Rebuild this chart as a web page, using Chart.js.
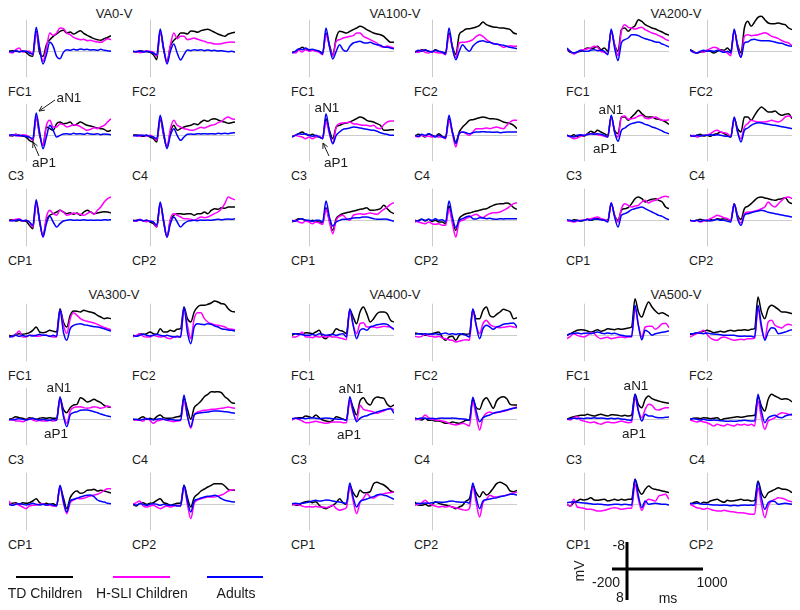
<!DOCTYPE html>
<html>
<head>
<meta charset="utf-8">
<script src="https://cdn.jsdelivr.net/npm/chart.js@4.4.1/dist/chart.umd.min.js"></script>
<style>
  body { margin: 0; background: #fff; }
  #stage { position: relative; width: 800px; height: 610px; overflow: hidden;
           font-family: Arial, "Liberation Sans", sans-serif; color: #1a1a1a; }
  #stage canvas { position: absolute; }
  .c { position: absolute; white-space: nowrap; transform: translate(-50%, -50%); line-height: 1; }
  .l { position: absolute; white-space: nowrap; transform: translate(0, -50%); line-height: 1; }
  svg { position: absolute; left: 0; top: 0; }
</style>
</head>
<body>
<div id="stage"></div>
<script>
// time axis (ms) shared by every trace
const times = [-200,-160,-120,-80,-40,0,40,80,120,160,200,240,280,320,360,400,440,480,520,560,600,640,680,720,760,800,840,880,920,960,1000];

const panels = ['VA0-V','VA100-V','VA200-V','VA300-V','VA400-V','VA500-V'];
const electrodes = ['FC1','FC2','C3','C4','CP1','CP2'];
const groups = ['TD Children','H-SLI Children','Adults'];

// amplitudes in microvolts (negative plotted up)
// VA0-V
const va0_FC1_td = [0,-0.2,0,0.1,-0.1,0.3,1.2,1.5,-6,0.5,1.5,-2,-3.5,-4.5,-5.2,-6,-6.3,-5.5,-5.8,-5.2,-5.7,-6.2,-5.4,-4.8,-4.3,-3.8,-3.5,-3.3,-3.8,-4.2,-4.7];
const va0_FC1_hsli = [0.3,0.5,-0.5,-1,0.2,0,0,1,-5.5,-1,3,-1,-5.5,-4.8,-5.5,-7,-6.8,-5.5,-5,-4.2,-3.8,-3.5,-3.6,-3.2,-3.3,-3,-2.8,-2.7,-3.2,-3.8,-3.5];
const va0_FC1_adult = [0,0.2,-0.2,0.1,0,0,0.5,0.8,-7.2,-1,3.8,1,-2.7,-1.5,1.5,2.2,0.3,-0.5,-0.3,-0.6,-0.4,-0.7,-0.5,-0.6,-0.4,-0.5,-0.3,-0.6,-0.3,-0.2,0];
const va0_FC2_td = [0,0.2,-0.2,0,0.1,0.3,1,2.5,-6,-0.5,3,-1.5,-3.3,-4.2,-5.5,-5.5,-5.2,-6.1,-6,-5.7,-6.2,-6.5,-6.6,-6.2,-5.7,-5.2,-4.8,-4.5,-5.2,-5.5,-5.7];
const va0_FC2_hsli = [0.3,0,0.4,0.2,-0.2,0,0.3,1.5,-6,-1,3.3,-2,-5.5,-3.8,-4.5,-4.5,-3.5,-3.7,-4,-3.6,-3.3,-3,-2.6,-2.5,-2.2,-2.2,-2.3,-2.6,-2.7,-2.8,-2.7];
const va0_FC2_adult = [0,0.1,-0.1,0.2,0,0.2,0.5,1,-6.7,-1,3.8,0,-2.2,0.5,2.6,1,-0.4,-0.2,-0.5,-0.3,-0.5,-0.2,-0.4,-0.2,-0.3,-0.1,-0.2,0,0.1,0,0.2];
const va0_C3_td = [0,0.2,-0.3,0,0.2,0.5,1.5,2,-5.5,0,3,-2.5,-2,-1.5,-3.5,-4,-3.5,-3.6,-4,-3,-3.4,-4,-3.5,-3,-2.8,-2.5,-2.2,-2,-1.8,-1.2,-1.5];
const va0_C3_hsli = [0.2,0,-0.3,0.3,-0.2,0,0.5,1.5,-5.5,-0.5,3,-3,-4.5,-2.5,-2.5,-3.5,-3.2,-2.5,-2.8,-3.2,-3,-2.6,-2,-1.5,-1.8,-2.3,-2,-2.5,-3,-4,-5];
const va0_C3_adult = [0,-0.2,0.1,0,0.1,0.3,0.6,1,-6.7,-1,4,0.5,-3,-1.5,0.5,0,-0.4,-0.5,-0.3,-0.6,-0.4,-0.5,-0.3,-0.6,-0.4,-0.3,-0.5,-0.2,-0.4,-0.3,-0.2];
const va0_C4_td = [0,-0.2,0.2,0.3,0,0.5,1,2,-5,0,3.5,-1,-3,-1.5,-2,-2.5,-2.8,-3,-3.5,-3.2,-4,-4.5,-4.2,-4.8,-5,-4.6,-4.2,-4,-3.6,-3.8,-4];
const va0_C4_hsli = [0.2,0,0.3,-0.1,0.2,0,0.5,1.5,-5.5,-0.5,3.5,-2,-4.5,-3,-2.5,-2,-1.8,-1.5,-1.6,-2,-2.4,-2.2,-2.6,-3,-3.2,-3.8,-4.2,-5,-5.5,-5,-4.8];
const va0_C4_adult = [0,0.2,-0.1,0.1,0,0.3,0.5,1,-6,-1,4,0,-2,0,1.5,0.5,-0.3,-0.4,-0.3,-0.5,-0.4,-0.5,-0.4,-0.5,-0.4,-0.6,-0.5,-0.6,-0.5,-0.7,-0.8];
const va0_CP1_td = [0,-0.2,0.2,0,0.2,0.3,1.5,2.5,-5.5,0.5,4.5,0,-1.5,-2,-2.5,-3,-2.5,-2,-2.3,-1.8,-2.2,-1.5,-2.5,-3,-2.5,-2,-2.2,-2.4,-2.6,-2.5,-2.2];
const va0_CP1_hsli = [0.2,0,-0.3,-0.5,0.2,0,0.5,2,-5,0,5,-1,-3,-2,-1.5,-3,-2.5,-1.5,-1.8,-2.2,-2,-1.8,-1.5,-2,-2.5,-1.8,-3,-4,-5.5,-6.5,-7];
const va0_CP1_adult = [0,0.2,0,-0.2,0.1,0,0.5,1.5,-6.2,0,5,1,-1.2,0.5,2,1,0.2,0,-0.2,0,-0.1,0,-0.2,0,-0.1,0,-0.1,0,-0.2,-0.1,-0.2];
const va0_CP2_td = [0.2,0,-0.2,0.2,0,0.5,1,2,-5,0.5,5,0,-1.5,-2,-2,-1.8,-2,-2,-1.5,-2,-2,-2.5,-2,-3,-3.5,-3.3,-3.8,-3.6,-4,-4,-4];
const va0_CP2_hsli = [0,0.3,-0.3,0.2,0.4,0.2,0.5,2,-5,0,5,-0.5,-2,-1.5,-1,-0.5,-0.5,-0.3,0,-0.5,-1,-0.8,-1,-1.5,-2,-2.5,-3.5,-5,-7,-6.5,-6.2];
const va0_CP2_adult = [0,0.1,-0.2,0.1,0,0.3,0.5,1.5,-5.5,0,5,1,-1,0.5,2,1,0.3,0.1,0,0.1,-0.1,0,-0.1,0,-0.2,-0.3,-0.2,-0.3,-0.4,-0.3,-0.5];

// VA100-V
const va100_FC1_td = [0.3,0,-0.5,-1.2,-0.5,-0.3,-0.5,-0.2,0,0.5,-5.5,-2,1,-4,-6,-5.8,-5.5,-6,-6.5,-7,-7.5,-7.2,-6.5,-6,-5.5,-5.2,-5,-4.5,-3.5,-2.7,-2.7];
const va100_FC1_hsli = [0.3,0.5,-0.3,0.2,-0.5,0,-0.3,0,0.3,1,-5,-1.5,1.5,-3,-3.5,-4,-4.2,-4.5,-4.7,-5.5,-5.5,-4.5,-4,-3.5,-3,-2.5,-1.5,-1.2,-1.6,-1.3,-1];
const va100_FC1_adult = [0.5,0,-0.8,-0.5,-1,-0.5,-0.6,-0.3,0,0.8,-7,-1.5,2.3,0,-2,-0.5,0,-1.5,-2.5,-2.8,-3,-2.6,-2.5,-2.7,-2.3,-2,-1.8,-1.3,-1.2,-1,-0.7];
const va100_FC2_td = [0.2,0,-0.5,-0.3,0,0.2,-0.5,0,0.3,0.5,-5.5,-1.5,1,-5,-6,-6.7,-6.8,-7,-7.3,-7.8,-8.8,-8,-7.6,-7.3,-7.2,-7,-7,-6.8,-6.5,-5.5,-5.2];
const va100_FC2_hsli = [0,0.3,-0.3,0.3,0.5,0,0.3,0.5,0.5,1,-5,-1,2,-2.5,-2.7,-2.8,-3,-3.5,-4.5,-5,-4.5,-3.5,-2.8,-2.4,-2.2,-1.8,-1.2,-1.5,-1.7,-1.5,-1.5];
const va100_FC2_adult = [0.2,-0.3,0,-0.5,0,0.2,-0.3,0,0.2,0.8,-7,-1,2.5,0,-2,-0.8,0,-1.5,-2.5,-3,-3.2,-2.8,-2.7,-2.3,-2.2,-2,-1.8,-1.5,-1.2,-1,-0.8];
const va100_C3_td = [0.3,0,-0.5,-1,-0.3,0,-0.3,0.3,0.5,0.8,-5,-1.5,1,-2.5,-3,-3.5,-3.7,-4,-4.5,-5,-5.5,-5.2,-4.5,-4.2,-4,-3.5,-3,-1.5,-1.5,-1.7,-1.7];
const va100_C3_hsli = [0.5,0,0.3,0.5,1,0.5,1,0.5,0.3,1,-4,-0.5,2.5,-2.5,-3.5,-3.7,-3.8,-4,-3.5,-3.4,-3.2,-3,-3,-2.8,-3,-2.2,-2,-3.2,-4,-4.3,-4.3];
const va100_C3_adult = [0.5,0,-0.5,-0.3,-0.5,0,0.3,0,0.5,1,-6.5,-1,2.5,0,-1,-1.8,-2,-2.2,-2.5,-2.4,-2.2,-2,-1.8,-1.6,-1.5,-1.2,-0.8,-0.5,-0.3,0,0];
const va100_C4_td = [0.3,-0.3,0,0.5,-0.5,0,0.3,-0.5,0.3,0.5,-5,-1,2,-1,-2.5,-3.5,-4.5,-4.7,-5,-5.3,-5.5,-5.3,-5,-5,-4.8,-4.5,-4,-3.8,-3.5,-3,-2];
const va100_C4_hsli = [0.3,0.5,0,0.3,0.2,0.5,0.2,0.5,0.5,1,-4.5,-0.5,3.5,-0.5,-1,-0.5,0,-1,-2,-2,-2,-2.2,-2,-2.3,-2.5,-2.2,-2,-3,-4,-4.5,-4.5];
const va100_C4_adult = [0,0.3,-0.3,0,-0.5,0,0.5,0,0.5,0.8,-6,-1,2.5,-0.5,-1,-0.8,-0.5,-0.8,-1,-1,-1.1,-1,-1,-0.9,-1,-0.8,-0.9,-1,-1,-1,-1];
const va100_CP1_td = [0.5,0,-0.5,-0.3,0,0.3,0,0.3,0.5,0.8,-3.8,0,3,-0.5,-1.5,-2,-2.3,-2.5,-2.8,-3,-3.3,-3.5,-3.8,-3,-3,-3.2,-3.5,-4.5,-3.5,-2.5,-2];
const va100_CP1_hsli = [0.3,0,0.5,0.8,0.2,0.5,1,0.5,0.8,1.2,-3.3,0.5,4,0,-1.2,-1.5,-0.5,0,-1.5,-1.8,-2,-1.8,-2,-2.2,-2,-1.8,-2.5,-3.3,-4,-4.8,-5.3];
const va100_CP1_adult = [0,0.3,-0.3,-0.5,0,0,0.3,0,0,0.5,-5.8,-1,1.7,0.5,0,-0.3,-0.3,-0.5,-0.7,-0.8,-0.8,-1,-1,-0.8,-0.5,-0.3,-0.3,-0.4,-0.3,0,0.3];
const va100_CP2_td = [0.5,0,-0.3,0.2,-0.3,0.3,0,0.5,0.5,1,-4.3,0,3,-0.5,-1.5,-2,-2.2,-2.5,-2.8,-3,-3.3,-3.5,-4,-4.5,-4.8,-5,-5,-5.2,-4.8,-3.8,-3.3];
const va100_CP2_hsli = [0.3,0.5,0.8,1,0.5,1,1.2,1,1.5,1.5,-3.3,1,5,0.5,0,-0.5,-1,-1.5,-1.8,-1.2,-0.8,-1.5,-2,-2.3,-2.3,-2.5,-3,-3.5,-4.3,-5,-5.3];
const va100_CP2_adult = [0,0.2,-0.3,0,-0.3,0,-0.5,0,-0.2,0.5,-5.8,-1,2.2,0,-0.5,-1,-1.3,-0.5,-0.4,-0.8,-0.7,-0.5,-0.6,-0.4,-0.3,-0.5,-0.4,-0.5,-0.5,-0.5,-0.5];

// VA200-V
const va200_FC1_td = [-0.5,0.3,0.5,0.2,0,-0.5,-1,-0.8,-1,-1.5,-0.5,-1,0,-6,-2,0,-6.5,-7,-6,-7,-7.7,-9.5,-9,-8,-7.5,-7,-6.7,-6.2,-5.8,-5.2,-4.9];
const va200_FC1_hsli = [-0.5,0,0.8,0.3,-0.3,-0.5,-0.8,-1,-1.5,-1.2,0,0.3,0.8,-6.3,-2,1.3,-6,-8,-7.2,-7,-6.7,-7,-7.2,-6.5,-6,-5.5,-5.2,-4.7,-4.3,-3.6,-3.2];
const va200_FC1_adult = [-1,0,0.5,0.2,-0.3,0,0,-0.3,-0.5,-0.2,-0.3,0,1,-6.7,-1,2.8,-2.5,-3.5,-4,-5,-5,-4.7,-4.2,-3.8,-3.5,-3.2,-2.8,-2.7,-2.2,-1.8,-1.3];
const va200_FC2_td = [-0.5,0,0.5,0.2,0,-0.3,0,0.5,0,-0.5,-0.3,-1,0,-6.2,-2,0.5,-7,-9,-7.5,-8.8,-10.2,-10.5,-9.5,-8.5,-8.3,-8.3,-8.5,-8.2,-8,-7,-6.5];
const va200_FC2_hsli = [-0.3,0.2,0.5,0,0.3,-0.3,-0.8,-1.2,-1,-0.3,0,0.5,1.3,-6.3,-1.5,1.8,-4.5,-5,-4.7,-4.8,-5,-5.3,-5.6,-5.2,-4.5,-4.2,-3.8,-3.2,-2.8,-2.5,-1.7];
const va200_FC2_adult = [-0.5,0.3,0.5,0,-0.3,0,-0.2,0,-0.3,0,0.3,0,0.5,-6.7,-1,1.8,-2.5,-2.8,-3.5,-3.6,-3.3,-3.2,-3.2,-3.2,-3,-2.8,-2.5,-2.4,-2,-1.7,-1.5];
const va200_C3_td = [0,0.3,-0.2,0.3,0,0.2,-0.5,-1.2,-0.8,-1.5,-1,-0.5,0,-5.7,-1.5,-0.5,-5.5,-5.5,-4.5,-5.5,-6.5,-7.5,-6.5,-5.7,-5.5,-5.5,-5,-4.8,-4.5,-4,-3.3];
const va200_C3_hsli = [0,0.5,1,0.8,0.3,0,-0.3,-0.5,-0.5,-0.2,0,0.3,0.5,-5.5,-1,0.5,-5.5,-5.8,-4.8,-5,-5.2,-5.8,-6,-5.2,-5,-5.3,-5.5,-5,-4.5,-4.5,-4.7];
const va200_C3_adult = [0,0.3,0.5,0,-0.2,0,-0.2,-0.5,-0.3,-0.5,-0.3,0,0.5,-6,-1,1.8,-1.5,-2.2,-3,-3.5,-3.8,-4,-3.8,-3.3,-3,-2.5,-2.2,-1.8,-1.3,-0.8,-0.5];
const va200_C4_td = [0,0.3,0,-0.3,0.2,0,0.3,-0.3,-0.5,-1,-0.5,0,0.5,-5,-2,-1,-5.5,-5.5,-4.5,-6,-7.5,-8.5,-7.8,-7,-7,-7.3,-6.5,-6,-6.3,-6.5,-5];
const va200_C4_hsli = [0.3,0,0.5,0.2,0,0,-0.5,-1.2,-1.5,-1,-0.8,-0.5,0.3,-5.3,-1,1,-2.5,-3.5,-4.5,-4.2,-4,-4,-4,-4.2,-4.5,-4.2,-4,-4.5,-5.5,-5.8,-5.5];
const va200_C4_adult = [0,0.3,0,0.2,0,0,-0.2,0,-0.2,0,0.2,0.3,0.5,-5.5,-1,2,-1.5,-2.2,-3,-3.5,-3.8,-3.7,-3.5,-3.3,-3.1,-3,-2.8,-2.6,-2.4,-2.2,-2];
const va200_CP1_td = [0,0.3,-0.2,0,0.2,0,-0.3,0,-0.3,-0.5,-0.3,0,0,-5,-1.5,0,-3,-3.5,-3.8,-5,-6.5,-7,-6.5,-5.5,-6,-6.3,-6.5,-6,-5.5,-4,-3.5];
const va200_CP1_hsli = [0,0.3,0.5,0.2,0,0,-0.3,-0.5,-0.8,-1,-0.5,-0.3,0.3,-5.2,-1.5,0.5,-3.5,-5,-4.5,-4,-4.3,-4.5,-5.5,-6,-5.2,-5.8,-6,-6.5,-7,-7.2,-7];
const va200_CP1_adult = [-0.2,0,0.3,0,0.2,0,-0.3,0,-0.5,-0.3,-0.2,0,0.5,-5.3,-1,2,-1.5,-2,-2.5,-3.2,-3.5,-3.8,-4,-3.5,-3,-2.5,-2,-1.5,-1.2,-0.6,-0.2];
const va200_CP2_td = [0,0.2,0,-0.3,0,0.2,-0.3,0,-0.5,-0.3,-0.5,-0.3,0,-5,-1.5,-0.3,-3.5,-4.2,-5,-6,-6.8,-7,-6.7,-6.5,-6.2,-6,-6.3,-6.5,-6.8,-5.5,-5];
const va200_CP2_hsli = [0,0.3,0,0.5,0.2,0,-0.5,-1,-1.5,-1.2,-0.8,-0.5,0,-4.8,-1,0.8,-2,-2.5,-2.5,-2.8,-3,-3.5,-4,-5.5,-4.5,-4,-5,-6,-6.8,-7,-6.5];
const va200_CP2_adult = [0,0.2,0,0.3,0,0,0.2,0,-0.3,0,0,0.3,0.5,-5,-0.5,1.5,-1.5,-2,-2.3,-2.6,-2.8,-3,-2.8,-2.4,-2.2,-2,-1.8,-1.6,-1.4,-1.2,-1];

// VA300-V
const va300_FC1_td = [0,0.2,-0.3,-0.5,-0.3,-0.5,-0.8,-1.5,-2.5,-1,-0.8,-1,-1.5,-1.2,-1,-8,-4,-2.5,-6,-7.3,-7.2,-7,-7.5,-7.2,-7,-6.7,-6,-5.5,-5,-5.2,-5];
const va300_FC1_hsli = [0.3,0.5,-0.3,-1.3,0.5,0.5,0,0,0.3,0.2,0,0,0.3,0.5,0.5,-7.5,-3,-0.5,-5,-6.8,-6,-5,-4.5,-4.2,-4,-3.7,-3.3,-2.8,-2.4,-2,-1.7];
const va300_FC1_adult = [0.5,0.3,0,0.3,0,0.3,0,0.2,0,-0.3,0,0,0.3,0,0.3,-7.7,-1,1.5,-2,-3,-3.3,-3.5,-3.2,-3,-2.8,-2.6,-2.5,-2.3,-2,-1.6,-1.3];
const va300_FC2_td = [0,0.3,-0.5,-0.3,-0.5,-1,-0.5,-0.3,-2,-1,-1,-1.5,-1.2,-1.8,-2,-8.5,-5,-4,-7,-8.5,-9,-9,-9.3,-9.7,-10.3,-10,-9.5,-9.3,-8,-7.2,-7];
const va300_FC2_hsli = [0.5,0,-0.5,0.3,0.5,0.5,0,0.3,0.5,0.3,0.8,1,0.5,0.5,0.5,-8,-3,1,-5,-6.8,-6.8,-5,-4,-3.5,-3.2,-3,-2.8,-2.5,-2,-1.8,-1.7];
const va300_FC2_adult = [0,0.3,0,-0.3,0,0.2,0,-0.3,0,0.2,0,0.3,0.5,0.3,0.5,-8.5,-1,2.5,-2.5,-3.5,-3.3,-3.2,-3.5,-3.3,-2.8,-2.5,-2,-1.8,-1.6,-1.5,-1.3];
const va300_C3_td = [0,-0.3,-0.8,-0.5,-0.3,0,-0.5,-0.3,0,-0.3,-0.5,-0.3,-0.5,-0.3,-0.3,-6.3,-3,-2,-3.5,-4.3,-4.5,-6.5,-6,-5.2,-5.5,-6,-5.5,-5,-4.2,-3.8,-3.6];
const va300_C3_hsli = [0.3,0,0.5,0.5,0.7,0.3,-0.2,0.2,0.5,0.3,0.5,0.5,0.3,0.5,0.2,-5.8,-1.5,1.2,-2.5,-3.5,-3.7,-3.8,-3.5,-3.3,-3.5,-3.8,-3.6,-3.3,-3.6,-4,-3.6];
const va300_C3_adult = [0,0.2,0,-0.2,0,0.2,0,-0.3,0,0.2,0,0.2,0.3,0,0.3,-6.8,-1,2.2,-1.3,-2,-2.3,-2.7,-2.8,-2.8,-2.6,-2.3,-2,-1.6,-1.3,-1,-0.8];
const va300_C4_td = [0,0.3,-0.3,-0.8,0,-0.3,0,-0.8,-1.3,-0.5,-0.3,-0.3,-0.5,-0.8,-1,-6.3,-3,0,-3.5,-4.5,-5.5,-6.8,-7.5,-8.3,-8.2,-8.3,-8,-6.8,-6,-5,-4.8];
const va300_C4_hsli = [0,0.3,0.3,0.5,-0.3,0.3,1.2,0.5,0.3,0,0.3,0.5,0.7,0.5,0.3,-5.3,-1,2.7,-1.3,-2.2,-2.5,-2.7,-2.8,-3,-3,-3.2,-3.3,-3.5,-3.7,-3.5,-3.3];
const va300_C4_adult = [0,0,0.2,0,-0.2,0,0.2,0,-0.2,0,0.2,0,0.2,0.3,0.2,-7.3,-1,2.2,-1.3,-1.8,-2,-2.1,-2.2,-2.4,-2.5,-2.5,-2.4,-2.3,-2.2,-2,-1.8];
const va300_CP1_td = [0,-0.3,-0.5,0,-0.5,-0.3,-0.5,-1,-1.7,-0.5,0,-0.3,0,-0.2,0.3,-5.2,-2,1.3,-2,-3.5,-4,-3.3,-3.5,-4.2,-4.3,-4.5,-4,-4.2,-4,-3.7,-3.4];
const va300_CP1_hsli = [-1,0.3,-0.2,0.3,0.8,1.3,0.5,0.3,0.2,0,-0.2,0.3,0.2,0.5,0.5,-5.2,-0.5,2.8,-0.5,-1.3,-1.8,-1.7,-1.8,-2.2,-2.5,-2.8,-3,-3.5,-4.2,-4.7,-4.7];
const va300_CP1_adult = [0,0.3,0,-0.2,0,0.2,0,-0.3,0,0.2,0,0.2,0,0.3,0.5,-5.7,-1,2.3,-1,-1.5,-1.8,-2.2,-2.5,-2.7,-2.8,-2.3,-1.3,-0.9,-0.7,-0.3,-0.2];
const va300_CP2_td = [0,0.5,-0.3,-0.5,0,-0.3,-0.5,-1.2,-1.7,-0.5,-0.2,0.3,0,-0.3,-0.3,-5.7,-2,0.8,-2,-3,-4,-4.6,-5.2,-5.7,-6.2,-6.2,-6.2,-5.5,-4.5,-4.2,-4.2];
const va300_CP2_hsli = [0,-0.5,-1,0.5,0.8,0.5,0.3,0.8,1.3,0.8,0.5,0.8,0.5,0.3,0.5,-5.2,0,4.3,-0.3,-1.3,-1.7,-2,-2.2,-2.2,-2.2,-2.5,-2.8,-3.3,-4,-4.3,-4.4];
const va300_CP2_adult = [0,0.2,-0.2,0,0.3,0,-0.2,0,0.3,0,0.2,0.3,0.2,0.5,0.5,-5.7,-1,2.3,-1,-1.5,-1.9,-2.2,-2.4,-2.5,-2.7,-2.4,-1.7,-1.2,-1,-0.8,-0.7];

// VA400-V
const va400_FC1_td = [0,-0.5,-0.5,-0.3,-0.8,-0.7,-0.5,-1,-1.5,0.5,1,0,-0.5,-2,-1.5,-1.2,-0.5,-7.7,-5.5,-3.5,-7,-8.5,-6.5,-4,-5,-6.5,-7,-7,-6.5,-4.5,-4];
const va400_FC1_hsli = [0.5,0.5,0,-1,0.5,0.5,0.7,0.3,0.5,0.3,0.5,0.3,0.5,0.5,0.8,1,1.3,-7.5,-3,-0.5,-3.5,-3.8,-2.5,-2.5,-2.5,-2.3,-2.5,-2.7,-2.6,-2.5,-1.8];
const va400_FC1_adult = [-0.5,-0.5,-0.3,-0.2,0,0,-0.3,0,-0.5,-0.3,0,-0.2,-0.3,0,-0.3,-0.5,0.5,-8,-3,1,-1.5,-2,-1.5,-2.5,-2.8,-3.2,-3.3,-3.5,-3.3,-2.5,-1.8];
const va400_FC2_td = [-0.7,-0.5,-0.5,0,-0.3,-0.5,-0.8,-1,0.5,1.5,0.5,0.3,1.5,0,-0.5,-0.3,-0.5,-7.7,-5,-5,-7.5,-8.5,-6,-5.5,-6.3,-7,-7.8,-7.5,-7,-5,-5.3];
const va400_FC2_hsli = [0.3,0.5,0.3,-0.5,0.2,0.3,0.5,0.3,0.8,1,1.3,1.5,2,1.8,1.5,1.3,1.5,-7.5,-3,-0.5,-3.5,-4.5,-3.3,-2.7,-2.4,-2.3,-2.4,-2.6,-2.7,-2.5,-2.3];
const va400_FC2_adult = [-0.3,-0.5,-0.3,-0.5,-0.3,-0.3,-0.5,-0.3,-0.5,-0.7,-0.3,-0.5,-0.3,-0.5,-0.3,0,0.5,-8,-3,1,-2,-3,-2.5,-1.8,-2.5,-2.8,-3.3,-3.5,-3.6,-3.7,-2.5];
const va400_C3_td = [0,-0.3,-0.5,-0.5,-1,-0.8,-0.5,-1.3,-0.5,0.2,0.5,0.7,0.3,-0.8,-0.5,0,0.2,-5.8,-3.5,-1.3,-5.5,-6.5,-5,-4.3,-6,-6.7,-6.5,-6.3,-4.5,-3.8,-4.3];
const va400_C3_hsli = [0.2,-0.3,0,0.5,1,1,0.8,0.6,0.8,1,1.2,1,0.8,0.8,0.8,1,1,-5.6,-2,0.3,-4.2,-3,-2.7,-2.5,-2.2,-1.8,-2.2,-2.5,-3,-3.3,-2.8];
const va400_C3_adult = [-0.2,-0.3,-0.2,-0.3,-0.2,-0.3,-0.5,-0.3,-0.2,-0.3,-0.4,-0.3,-0.2,-0.1,0,0,0.3,-6.8,-2.5,0.7,-0.3,-0.8,-1.1,-1.5,-1.8,-2.2,-2.5,-2.8,-3,-3.2,-1.8];
const va400_C4_td = [-0.3,0,0.2,-0.3,0.3,0.2,0.5,0.5,0.8,1.2,1.2,0.8,1,1.2,0.8,0.3,0.2,-6,-3.5,-3,-5.5,-6.5,-5,-3.3,-5.5,-6.5,-6.8,-6.2,-4.5,-4.3,-4.3];
const va400_C4_hsli = [0.2,0,-0.3,-1.3,-0.5,0,0.2,0.3,0.5,0.7,1.2,1.5,1.7,1.5,1.2,1.5,2,-5.3,-1,3.2,-0.5,-1.8,-2.2,-1.8,-2,-2.2,-2.4,-2.7,-3,-3.4,-3.8];
const va400_C4_adult = [-0.3,-0.2,-0.4,-0.3,-0.2,-0.3,-0.2,-0.3,-0.4,-0.3,-0.3,-0.4,-0.3,-0.2,-0.1,0,0.3,-6.6,-2.5,0.7,-0.5,-1,-1.3,-1.8,-2.1,-2.3,-2.6,-2.8,-3.1,-3.3,-3.5];
const va400_CP1_td = [-0.2,0.2,0.3,-0.4,-0.8,-0.9,-0.5,-0.8,0.3,1,1.3,0.8,0.3,-0.5,-1.7,-0.5,0,-5.5,-3.5,-2.2,-4.2,-3.5,-3.5,-3.8,-6.2,-6.6,-6.2,-5.8,-5,-4,-3.7];
const va400_CP1_hsli = [0.3,0,0.2,0.5,0.8,0.7,0.8,0.6,0.8,0.8,1,0.7,0.3,1.2,1.8,1.5,1,-5.2,-1,2.8,-0.5,-1.8,-3.2,-2.2,-1.8,-2.5,-2.9,-3.2,-3.4,-3.5,-3.7];
const va400_CP1_adult = [-0.2,-0.3,-0.2,-0.3,-0.5,-0.7,-1,-1.2,-1,-1.1,-1.3,-1.2,-1,-0.8,-0.7,-0.5,-0.3,-6.4,-2,0.8,-0.8,-1.3,-1.6,-2,-2.3,-2.8,-3,-2.7,-2.5,-2,-1.5];
const va400_CP2_td = [-0.7,0.2,0.3,0,0.5,0.2,-0.8,-0.3,0,0.2,0.5,0.8,1.3,0.8,0.3,-1,-1.7,-5.5,-3.5,-2.2,-3.8,-2.8,-3.5,-4.8,-6.2,-6.6,-6.2,-5.5,-4,-3.8,-4.2];
const va400_CP2_hsli = [0.3,0,-0.5,-1.2,-0.3,0.2,0.5,0.8,0.6,0.8,0.6,0.8,1,1.3,1.6,1.8,1.3,-5.2,-0.5,3.8,-0.5,-1.5,-2.7,-2.3,-2.2,-2.4,-2.5,-2.8,-3.1,-3.4,-3.7];
const va400_CP2_adult = [-0.2,-0.3,-0.2,-0.4,-0.3,-0.5,-0.6,-0.7,-0.6,-0.7,-0.9,-1,-0.8,-0.7,-0.6,-0.7,-0.3,-6.4,-2,1.3,-1,-1.4,-1.6,-1.8,-2,-2.3,-2.5,-2.7,-3,-3,-2.8];

// VA500-V
const va500_FC1_td = [0,-0.5,-1,-1.5,-1.7,-1.6,-1.3,-1,-1.3,-1.7,-1.2,-1.5,-2,-1.8,-1.7,-2,-1.8,-2,-2.2,-2.5,-11,-7,-5.5,-8,-10,-8.5,-7.3,-6.5,-6.8,-6.3,-5.7];
const va500_FC1_hsli = [1,0.3,-0.5,0,0.3,0.5,0,-0.7,-0.5,0.5,1,0.7,0.6,1,0.8,0.6,0.5,0.7,0.5,0.5,-8,-3,0.5,-2.5,-2.7,-2.7,-1.8,-2.5,-3.5,-3.6,-2.3];
const va500_FC1_adult = [0,-0.5,-0.6,-0.7,-0.5,-0.6,-0.7,-0.5,-0.8,-1,-0.7,-0.5,-0.7,-0.5,-0.6,-0.3,0,0.2,0.3,0.3,-9,-3,1.3,-1.5,-1,0,-0.5,-0.7,-0.9,-1.1,-1.3];
const va500_FC2_td = [-0.2,-0.5,-0.7,-1,-1.2,-1.5,-1.2,-0.8,-1,-1.2,-1,-1.3,-1.5,-1.3,-1.5,-1.5,-1.7,-1.5,-1.8,-2,-11.5,-7,-5,-8,-9,-8.5,-7.8,-7,-7,-6.8,-6.5];
const va500_FC2_hsli = [0.5,0,-0.5,-1,-1.5,-0.3,0.8,1.3,1.5,0.8,0.5,0.8,1.2,1.5,1.3,1.2,1.3,1,1,0.8,-8,-2,1,-4,-4.5,-3,-2.5,-2.2,-3,-3.3,-3];
const va500_FC2_adult = [-0.5,-0.5,-0.8,-0.6,-0.5,-0.7,-0.5,-0.4,-0.3,-0.2,0,0,0,0,0.2,0.3,0.2,0.3,0.3,0.5,-9,-3,1.5,-1,-2.3,-2,-0.5,-0.7,-1,-1.4,-1.7];
const va500_C3_td = [0,-0.5,-0.8,-1,-1.2,-1.2,-1.5,-1.2,-1,-1.3,-1.5,-1.2,-1,-1.4,-1.3,-1.2,-1,-1.2,-1,-1.3,-7.5,-4.5,-3.5,-6,-7,-6.2,-5.8,-5.5,-5.2,-5,-4.8];
const va500_C3_hsli = [0,0.2,-0.5,-0.8,0.2,0.5,0.8,1,0.8,1.2,1.5,1,0.8,1,1,0.8,0.5,0.8,1,0.8,-6.5,-2.5,-0.5,-3,-4.5,-4.2,-3,-2.8,-3.2,-3.5,-3.5];
const va500_C3_adult = [0,-0.2,-0.3,-0.2,-0.3,-0.2,-0.4,-0.3,-0.5,-0.3,-0.4,-0.3,-0.2,-0.3,-0.2,-0.3,-0.1,0,0.2,0.3,-7.5,-2.5,0.5,-1.5,-1,-1,-0.6,-0.5,-0.5,-0.6,-0.7];
const va500_C4_td = [0,-0.3,-0.4,-0.2,-0.5,-0.4,-0.2,-0.3,-0.5,0.2,-0.2,-0.3,-0.5,-0.6,-0.8,-0.6,-0.8,-1,-1.1,-1.2,-6.8,-4,-2.5,-6,-7.5,-7,-6.5,-6,-6.2,-6,-5.2];
const va500_C4_hsli = [0.2,0.5,0.8,0.5,0.8,1,1.5,2,1.5,1.8,2,1.5,1.8,2,1.5,1.7,1.5,1.8,1.5,2,-5.5,-0.5,3,0.5,0,-0.5,-1.5,-2,-1.8,-1.5,-1.2];
const va500_C4_adult = [0,-0.2,0,0.2,0,0.2,0.3,0.2,0.3,0.4,0.5,0.6,0.5,0.6,0.5,0.4,0.3,0.4,0.5,0.5,-7.5,-2.5,1,-0.5,-1,-1.2,-0.6,-0.5,-1,-1.3,-1.5];
const va500_CP1_td = [0,0.5,-0.5,-1,-1.5,-1.3,-1.5,-2,-1.3,-1.2,-1.4,-1.5,-1,-1.2,-1.5,-1.2,-1.5,-1.3,-1.5,-1.5,-7.5,-4.5,-3,-4.5,-5.5,-4.8,-4.5,-4.3,-4,-3.8,-3.5];
const va500_CP1_hsli = [0,0.5,-1.5,0.8,1,1.2,1.5,1.5,1.7,2,2,1.8,1.5,1.2,1,1.2,1.5,1.3,1.2,1.2,-6,-1.5,1.8,-0.5,-1.5,-1.3,-1,-2.5,-2.8,-3,-1.5];
const va500_CP1_adult = [-0.5,-0.6,-0.8,-0.6,-0.5,-0.4,-0.3,-0.2,0,-0.1,0,0.1,0.2,0.1,0,0,0.1,0,0.1,0.2,-7.5,-2.5,1,-1,0,-0.2,-0.3,-0.2,0,0,0.2];
const va500_CP2_td = [0,-0.5,-0.8,-0.2,-0.6,-0.5,-1,-1.3,-1.5,-1,-0.6,-1.2,-1,-1.1,-1.3,-1.5,-1.2,-1.3,-1,-1.2,-7,-3.5,-2,-3.5,-4,-4.5,-5,-4.6,-4.5,-4.2,-3.5];
const va500_CP2_hsli = [0,0.5,1,1.2,1.5,1.2,1.5,1.8,2,2,1.8,2,2.2,2.3,2.5,2.5,2.6,2.8,3,3,-5,0,4,0.5,-1,-1.5,-2,-1.8,-1.5,-1,-0.8];
const va500_CP2_adult = [-0.3,-0.2,-0.3,-0.2,0,0,0.1,0.2,0.2,0.3,0.2,0.3,0.4,0.3,0.4,0.3,0.2,0.3,0.2,0.3,-6.8,-2,1.5,-0.5,-1,-0.8,0,-0.2,-0.3,-0.2,0];

const waves = {
  'VA0-V': {
    FC1: [va0_FC1_td, va0_FC1_hsli, va0_FC1_adult], FC2: [va0_FC2_td, va0_FC2_hsli, va0_FC2_adult],
    C3: [va0_C3_td, va0_C3_hsli, va0_C3_adult], C4: [va0_C4_td, va0_C4_hsli, va0_C4_adult],
    CP1: [va0_CP1_td, va0_CP1_hsli, va0_CP1_adult], CP2: [va0_CP2_td, va0_CP2_hsli, va0_CP2_adult]
  },
  'VA100-V': {
    FC1: [va100_FC1_td, va100_FC1_hsli, va100_FC1_adult], FC2: [va100_FC2_td, va100_FC2_hsli, va100_FC2_adult],
    C3: [va100_C3_td, va100_C3_hsli, va100_C3_adult], C4: [va100_C4_td, va100_C4_hsli, va100_C4_adult],
    CP1: [va100_CP1_td, va100_CP1_hsli, va100_CP1_adult], CP2: [va100_CP2_td, va100_CP2_hsli, va100_CP2_adult]
  },
  'VA200-V': {
    FC1: [va200_FC1_td, va200_FC1_hsli, va200_FC1_adult], FC2: [va200_FC2_td, va200_FC2_hsli, va200_FC2_adult],
    C3: [va200_C3_td, va200_C3_hsli, va200_C3_adult], C4: [va200_C4_td, va200_C4_hsli, va200_C4_adult],
    CP1: [va200_CP1_td, va200_CP1_hsli, va200_CP1_adult], CP2: [va200_CP2_td, va200_CP2_hsli, va200_CP2_adult]
  },
  'VA300-V': {
    FC1: [va300_FC1_td, va300_FC1_hsli, va300_FC1_adult], FC2: [va300_FC2_td, va300_FC2_hsli, va300_FC2_adult],
    C3: [va300_C3_td, va300_C3_hsli, va300_C3_adult], C4: [va300_C4_td, va300_C4_hsli, va300_C4_adult],
    CP1: [va300_CP1_td, va300_CP1_hsli, va300_CP1_adult], CP2: [va300_CP2_td, va300_CP2_hsli, va300_CP2_adult]
  },
  'VA400-V': {
    FC1: [va400_FC1_td, va400_FC1_hsli, va400_FC1_adult], FC2: [va400_FC2_td, va400_FC2_hsli, va400_FC2_adult],
    C3: [va400_C3_td, va400_C3_hsli, va400_C3_adult], C4: [va400_C4_td, va400_C4_hsli, va400_C4_adult],
    CP1: [va400_CP1_td, va400_CP1_hsli, va400_CP1_adult], CP2: [va400_CP2_td, va400_CP2_hsli, va400_CP2_adult]
  },
  'VA500-V': {
    FC1: [va500_FC1_td, va500_FC1_hsli, va500_FC1_adult], FC2: [va500_FC2_td, va500_FC2_hsli, va500_FC2_adult],
    C3: [va500_C3_td, va500_C3_hsli, va500_C3_adult], C4: [va500_C4_td, va500_C4_hsli, va500_C4_adult],
    CP1: [va500_CP1_td, va500_CP1_hsli, va500_CP1_adult], CP2: [va500_CP2_td, va500_CP2_hsli, va500_CP2_adult]
  }
};

const colors = ['#000000', '#ff00ff', '#0000ff'];

// layout: x of the 0 ms line for each panel column / sub-column, baseline y per row
const colX = [[26, 150], [309, 432], [584, 707]];
const rowY = [[51, 135, 220], [335, 419, 504]];
const titleX = [114, 395, 676];
const titleY = [13, 294];

const stage = document.getElementById('stage');

function addText(txt, x, y, size, cls) {
  const d = document.createElement('div');
  d.className = cls || 'c';
  d.textContent = txt;
  d.style.left = x + 'px';
  d.style.top = y + 'px';
  d.style.fontSize = size + 'px';
  stage.appendChild(d);
  return d;
}

const refLines = {
  id: 'refLines',
  beforeDatasetsDraw(chart) {
    const {ctx, scales: {x, y}} = chart;
    ctx.save();
    ctx.strokeStyle = '#cccccc';
    ctx.lineWidth = 1;
    const x0 = Math.round(x.getPixelForValue(0)) + 0.5;
    const y0 = Math.round(y.getPixelForValue(0)) + 0.5;
    ctx.beginPath();
    ctx.moveTo(x0, y.getPixelForValue(-9.5));
    ctx.lineTo(x0, y.getPixelForValue(7.8));
    ctx.moveTo(x0, y0);
    ctx.lineTo(x.getPixelForValue(1000), y0);
    ctx.stroke();
    ctx.restore();
  }
};

const W = 102, H = 74;

panels.forEach((panel, p) => {
  const row = p < 3 ? 0 : 1, col = p % 3;
  addText(panel, titleX[col], titleY[row], 13);
  electrodes.forEach((el, e) => {
    const sr = Math.floor(e / 2), sc = e % 2;
    const vx = colX[col][sc], base = rowY[row][sr];
    const cv = document.createElement('canvas');
    cv.width = W; cv.height = H;
    cv.style.left = (vx - 17) + 'px';
    cv.style.top = Math.round(base - 43) + 'px';
    cv.style.width = W + 'px'; cv.style.height = H + 'px';
    stage.appendChild(cv);
    const sets = waves[panel][el];
    // adults drawn on top, then H-SLI, then TD
    const order = [2, 1, 0];
    new Chart(cv.getContext('2d'), {
      type: 'line',
      data: {
        datasets: order.map(g => ({
          label: groups[g],
          data: times.map((t, i) => ({x: t, y: sets[g][i]})),
          borderColor: colors[g],
          borderWidth: 1.5,
          pointRadius: 0,
          fill: false,
          cubicInterpolationMode: 'monotone',
          clip: false
        }))
      },
      options: {
        responsive: false,
        devicePixelRatio: 1,
        animation: false,
        events: [],
        layout: { padding: 0 },
        scales: {
          x: { type: 'linear', min: -200, max: 1000, display: false },
          y: { min: -13, max: 9.2, reverse: true, display: false }
        },
        plugins: { legend: { display: false }, tooltip: { enabled: false } }
      },
      plugins: [refLines]
    });
    addText(el, vx - 18, base + 41, 12.5, 'l');
  });
});

// peak annotations
const annN1 = [[69, 98], [327, 108], [611, 110], [59, 388], [351, 389], [636, 386]];
const annP1 = [[44, 163], [336, 163], [605, 149], [56, 434], [349, 435], [634, 434]];
annN1.forEach(([x, y]) => addText('aN1', x, y, 13.5));
annP1.forEach(([x, y]) => addText('aP1', x, y, 13.5));

const NS = 'http://www.w3.org/2000/svg';
const svg = document.createElementNS(NS, 'svg');
svg.setAttribute('width', 800);
svg.setAttribute('height', 610);
stage.appendChild(svg);

function line(x1, y1, x2, y2, color, w) {
  const l = document.createElementNS(NS, 'line');
  l.setAttribute('x1', x1); l.setAttribute('y1', y1);
  l.setAttribute('x2', x2); l.setAttribute('y2', y2);
  l.setAttribute('stroke', color); l.setAttribute('stroke-width', w);
  svg.appendChild(l);
}

function arrow(x1, y1, x2, y2) {
  line(x1, y1, x2, y2, '#1a1a1a', 1);
  const a = Math.atan2(y2 - y1, x2 - x1), len = 6, spread = 0.45;
  line(x2, y2, x2 - len * Math.cos(a - spread), y2 - len * Math.sin(a - spread), '#1a1a1a', 1);
  line(x2, y2, x2 - len * Math.cos(a + spread), y2 - len * Math.sin(a + spread), '#1a1a1a', 1);
}
arrow(55, 100, 39, 111);
arrow(39, 156, 33, 142);
arrow(329, 156, 323, 143);

// legend
const legendLines = [[16, 73], [113, 170], [207, 263]];
const legendText = [45, 142, 236];
groups.forEach((g, i) => {
  line(legendLines[i][0], 577, legendLines[i][1], 577, colors[i], 2);
  addText(g, legendText[i], 593, 14);
});

// scale bar
line(627, 542, 627, 600, '#000', 3);
line(612, 569, 703, 569, '#000', 3);
const m8 = addText('-8', 625, 545, 14, 'l');
m8.style.transform = 'translate(-100%,-50%)';
addText('8', 620, 597, 14);
addText('-200', 606, 582, 14);
addText('1000', 712, 582, 14);
addText('ms', 668, 598, 14);
const mv = addText('mV', 579, 571, 14);
mv.style.transform = 'translate(-50%,-50%) rotate(-90deg)';
</script>
</body>
</html>
